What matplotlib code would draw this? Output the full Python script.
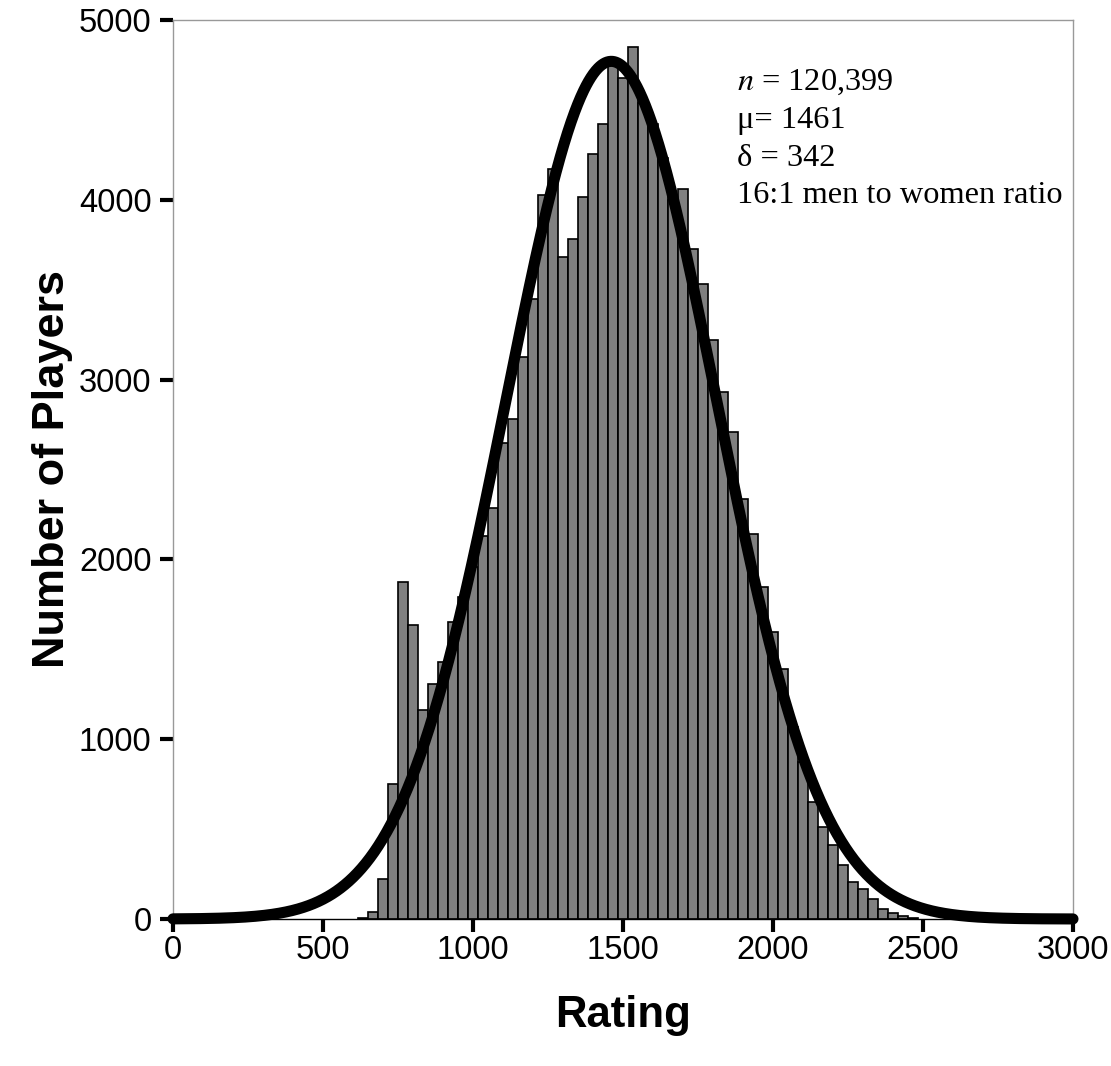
import numpy as np
import matplotlib
matplotlib.use("Agg")
import matplotlib.pyplot as plt

# ---- data ----
bin_width = 100.0 / 3.0
bin_centers = [633.3, 666.7, 700.0, 733.3, 766.7, 800.0, 833.3, 866.7, 900.0, 933.3,
               966.7, 1000.0, 1033.3, 1066.7, 1100.0, 1133.3, 1166.7, 1200.0, 1233.3, 1266.7,
               1300.0, 1333.3, 1366.7, 1400.0, 1433.3, 1466.7, 1500.0, 1533.3, 1566.7, 1600.0,
               1633.3, 1666.7, 1700.0, 1733.3, 1766.7, 1800.0, 1833.3, 1866.7, 1900.0, 1933.3,
               1966.7, 2000.0, 2033.3, 2066.7, 2100.0, 2133.3, 2166.7, 2200.0, 2233.3, 2266.7,
               2300.0, 2333.3, 2366.7, 2400.0, 2433.3, 2466.7]
counts = [8, 40, 221, 750, 1875, 1635, 1164, 1307, 1431, 1652,
          1790, 1960, 2128, 2284, 2646, 2780, 3125, 3450, 4026, 4170,
          3683, 3780, 4014, 4253, 4420, 4750, 4676, 4848, 4540, 4420,
          4230, 4000, 4058, 3725, 3530, 3223, 2930, 2710, 2335, 2140,
          1848, 1598, 1389, 1070, 875, 650, 513, 412, 300, 208,
          165, 109, 54, 35, 17, 5]

# annotation values (as stated on the chart)
n_players = "120,399"
mu = 1461
sigma = 342

# fitted curve as it appears in the picture (peak height and visual width)
curve_center = 1461
curve_width = 350
curve_peak = 4770

x_ticks = [0, 500, 1000, 1500, 2000, 2500, 3000]
y_ticks = [0, 1000, 2000, 3000, 4000, 5000]

# ---- figure ----
plt.rcParams["mathtext.fontset"] = "stix"
fig = plt.figure(figsize=(11.11, 10.66), dpi=100)
ax = fig.add_axes([173 / 1111, 1 - 919 / 1066, 900 / 1111, 899 / 1066])

ax.bar(bin_centers, counts, width=bin_width, color="#808080",
       edgecolor="black", linewidth=1.2, zorder=2)

xs = np.linspace(0, 3000, 1500)
ys = curve_peak * np.exp(-((xs - curve_center) ** 2) / (2 * curve_width ** 2))
ax.plot(xs, ys, color="black", linewidth=8.0, solid_capstyle="round",
        zorder=3, clip_on=False)

ax.set_xlim(0, 3000)
ax.set_ylim(0, 5000)
ax.set_xticks(x_ticks)
ax.set_yticks(y_ticks)
ax.set_xticklabels([str(t) for t in x_ticks], fontsize=23.5, family="Liberation Sans")
ax.set_yticklabels([str(t) for t in y_ticks], fontsize=23.5, family="Liberation Sans")
ax.tick_params(axis="both", direction="out", length=9.5, width=3, color="black")
ax.tick_params(axis="x", pad=2)
ax.tick_params(axis="y", pad=6)

for side in ["top", "right", "left"]:
    ax.spines[side].set_color("#999999")
    ax.spines[side].set_linewidth(1.0)
ax.spines["bottom"].set_color("black")
ax.spines["bottom"].set_linewidth(1.0)

ax.set_xlabel("Rating", fontsize=31.5, fontweight="bold", family="Liberation Sans",
              labelpad=21)
ax.set_ylabel("Number of Players", fontsize=32.5, fontweight="bold",
              family="Liberation Sans", labelpad=4)

tx = 0.627
ty = 0.947
dy = 0.0422
tstyle = dict(transform=ax.transAxes, fontsize=23.3, family="Liberation Serif",
              va="top", ha="left")
ax.text(tx, ty, r"$\mathit{n}$" + " = " + n_players, **tstyle)
ax.text(tx, ty - dy, "\u03bc= " + str(mu), **tstyle)
ax.text(tx, ty - 2 * dy, "\u03b4 = " + str(sigma), **tstyle)
ax.text(tx, ty - 3 * dy, "16:1 men to women ratio", **tstyle)

fig.savefig("out.png", dpi=100)
